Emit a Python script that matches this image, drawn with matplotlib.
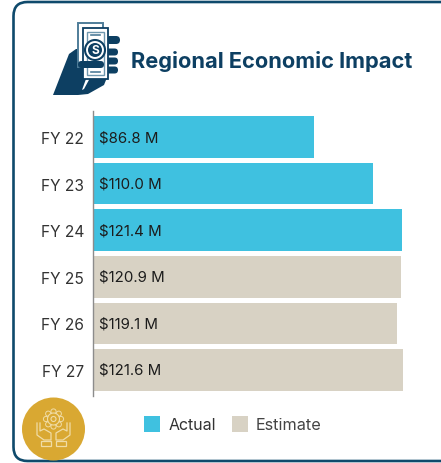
import numpy as np
import matplotlib
matplotlib.use("Agg")
import matplotlib.pyplot as plt
from matplotlib.patches import Circle, FancyBboxPatch, Polygon, Rectangle

# ── Data ──────────────────────────────────────────────────── #
years = ["FY 22", "FY 23", "FY 24", "FY 25", "FY 26", "FY 27"]
values = [86.8, 110.0, 121.4, 120.9, 119.1, 121.6]
kinds = ["Actual", "Actual", "Actual", "Estimate", "Estimate", "Estimate"]
labels = ["$86.8 M", "$110.0 M", "$121.4 M", "$120.9 M", "$119.1 M", "$121.6 M"]

W, H = 441, 464
NAVY = "#0d3f62"
FRAME = "#0f4a6c"
colors = {"Actual": "#3fc1e0", "Estimate": "#d8d2c4"}
GOLD = "#d9a832"
PALE = "#f0dca6"

plt.rcParams["font.family"] = ["Inter", "DejaVu Sans"]
plt.rcParams["text.parse_math"] = False

fig = plt.figure(figsize=(W / 100, H / 100), dpi=100)

# pixel-coordinate layer for the frame, icons, legend
bg = fig.add_axes([0, 0, 1, 1])
bg.set_xlim(0, W)
bg.set_ylim(H, 0)
bg.axis("off")

bg.add_patch(FancyBboxPatch((13.5, 3), 500, 459, boxstyle="round,pad=0,rounding_size=14",
                            fc="white", ec=FRAME, lw=1.9, clip_on=True))

# ── Hand + banknote icon ──────────────────────────────────── #
bg.add_patch(Polygon([(53, 96), (69, 55), (76, 50), (90, 50), (108, 76), (104, 86),
                      (88, 95), (78, 96)], fc=NAVY, ec="none"))
bg.add_patch(Polygon([(84, 90), (82, 91), (86, 80), (90, 79)], fc="white", ec="none"))
# fingers
bg.add_patch(FancyBboxPatch((106, 37), 14, 8, boxstyle="round,pad=0,rounding_size=4",
                            fc=NAVY, ec="none"))
for y in (53, 62, 71):
    bg.add_patch(FancyBboxPatch((106, y - 3.5), 12, 7, boxstyle="round,pad=0,rounding_size=3.5",
                                fc=NAVY, ec="none"))
# notes
bg.add_patch(Rectangle((78, 24), 25, 44, fc="white", ec="#4f7d99", lw=1.4))
bg.add_patch(Rectangle((83, 29), 25, 51, fc="white", ec=NAVY, lw=1.3))
bg.add_patch(Rectangle((87, 33), 17, 43, fc="none", ec="#6f97ae", lw=1.0))
bg.plot([91, 100], [36, 36], color="#4f7d99", lw=1.2)
bg.plot([91, 100], [73, 73], color="#4f7d99", lw=1.2)
bg.add_patch(Circle((95, 51), 10, fc="white", ec=NAVY, lw=1.5))
bg.add_patch(Circle((95, 51), 7, fc=NAVY, ec="none"))
bg.text(95, 51, "S", color="white", fontsize=8.5, fontweight="bold", ha="center", va="center")
# thumb across the note
bg.add_patch(FancyBboxPatch((78, 62), 26, 7, boxstyle="round,pad=0,rounding_size=3.5",
                            fc=NAVY, ec="none"))

bg.text(131, 61.5, "Regional Economic Impact", color=NAVY, fontsize=15.7, fontweight="bold",
        va="center", ha="left")

# ── Gold badge ────────────────────────────────────────────── #
bg.add_patch(Circle((53.5, 430), 31.5, fc=GOLD, ec="none"))
for a in np.deg2rad(np.arange(0, 360, 45)):
    bg.add_patch(Circle((53.5 + 7.5 * np.cos(a), 420 + 7.5 * np.sin(a)), 2.6,
                        fc="none", ec=PALE, lw=0.7))
bg.add_patch(Circle((53.5, 420), 6, fc=GOLD, ec=PALE, lw=0.8))
bg.add_patch(Circle((53.5, 420), 2.5, fc="none", ec=PALE, lw=0.8))
bg.plot([37, 37, 44, 51, 51, 44, 40, 40],
        [424, 436, 441, 441, 434, 430, 432, 424], color=PALE, lw=0.9)
bg.plot([70, 70, 63, 56, 56, 63, 67, 67],
        [424, 436, 441, 441, 434, 430, 432, 424], color=PALE, lw=0.9)
bg.add_patch(Rectangle((41, 442), 10, 5, fc="none", ec=PALE, lw=0.9))
bg.add_patch(Rectangle((56, 442), 10, 5, fc="none", ec=PALE, lw=0.9))

# ── Bars ──────────────────────────────────────────────────── #
ax = fig.add_axes([93 / W, 1 - 397 / H, (W - 93) / W, 285 / H], facecolor="none")
ax.barh(range(len(years)), values, height=0.89, color=[colors[k] for k in kinds])
ax.set_xlim(0, (W - 93) / 2.549)
ax.set_ylim(5.56, -0.56)
ax.set_yticks(range(len(years)), years)
ax.tick_params(axis="y", length=0, pad=6.5, labelsize=11.2, labelcolor="#333333")
ax.xaxis.set_visible(False)
for side in ("top", "right", "bottom"):
    ax.spines[side].set_visible(False)
ax.spines["left"].set_color("#8c8c8c")
ax.spines["left"].set_linewidth(1.0)
for i, lab in enumerate(labels):
    ax.text(2.2, i, lab, fontsize=10.8, color="#1c1c1c", va="center", ha="left")

# ── Legend ────────────────────────────────────────────────── #
bg.add_patch(Rectangle((144, 417), 16, 16, fc=colors["Actual"], ec="none"))
bg.text(169, 426, "Actual", fontsize=11.5, color="#333333", va="center")
bg.add_patch(Rectangle((232, 417), 16, 16, fc=colors["Estimate"], ec="none"))
bg.text(256, 426, "Estimate", fontsize=11.7, color="#444444", va="center")

fig.savefig("out.png", dpi=100)
